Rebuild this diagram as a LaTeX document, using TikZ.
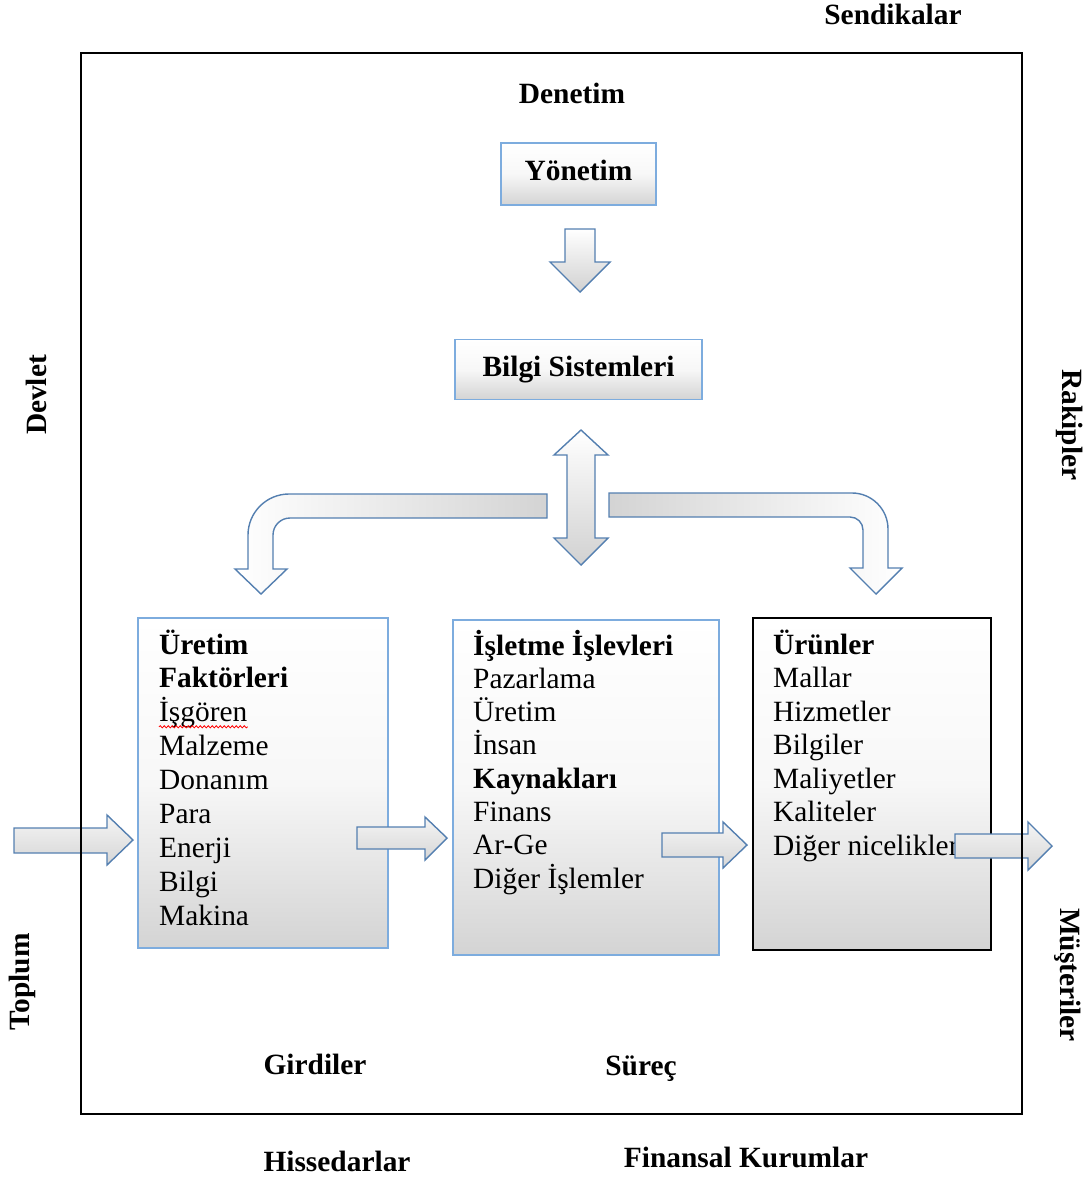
\documentclass[tikz,border=0pt]{standalone}
\usepackage{fontspec}
\setmainfont{Liberation Serif}
\usetikzlibrary{decorations.pathmorphing}
\definecolor{boxblue}{RGB}{125,172,222}
\definecolor{arrblue}{RGB}{84,127,176}
\begin{document}
\begin{tikzpicture}[x=1pt,y=-1pt,
  txt/.style={font=\fontsize{29.4}{34}\selectfont, inner sep=0pt},
  btxt/.style={font=\fontsize{29.4}{34}\selectfont\bfseries, inner sep=0pt},
  gradbox/.style={draw=boxblue, line width=1.3pt, top color=white, bottom color=black!17, middle color=black!3, inner sep=0pt},
  topbox/.style={gradbox, font=\fontsize{29.4}{34}\selectfont\bfseries, text height=20pt, text depth=6pt},
  blockarrow/.style={draw=arrblue, line width=1.4pt, line join=miter},
  vshade/.style={top color=white, bottom color=black!18},
  hshade/.style={top color=white!96!black, bottom color=black!16}
]
\useasboundingbox (0,0) rectangle (1090,1177);

% outside labels
\node[btxt, anchor=base] (sendikalar) at (893,25) {Sendikalar};
\node[btxt, anchor=base] (hissedarlar) at (337,1171) {Hissedarlar};
\node[btxt, anchor=base] (finansal) at (746,1167) {Finansal Kurumlar};
\node[btxt, rotate=90] (devlet) at (36,395) {Devlet};
\node[btxt, rotate=90] (toplum) at (22,982) {Toplum};
\node[btxt, rotate=-90] (rakipler) at (1070,425) {Rakipler};
\node[btxt, rotate=-90] (musteriler) at (1068,975) {Müşteriler};

% inside labels
\node[btxt, anchor=base] (denetim) at (572,104) {Denetim};
\node[btxt, anchor=base] (girdiler) at (315,1074) {Girdiler};
\node[btxt, anchor=base] (surec) at (641,1075) {Süreç};

% top boxes
\node[topbox, minimum width=155pt, minimum height=62pt] (yonetim) at (578.5,174) {Yönetim};
\node[topbox, minimum width=247pt, minimum height=60pt] (bilgi) at (578.5,369.5) {Bilgi Sistemleri};

% down arrow
\path[blockarrow, vshade] (565,229) -- (595,229) -- (595,262) -- (610,262) -- (580,292) -- (550,262) -- (565,262) -- cycle;

% double arrow
\path[blockarrow, vshade] (581,430) -- (608,455) -- (595,455) -- (595,538) -- (608,538) -- (581,565) -- (554,538) -- (567,538) -- (567,455) -- (554,455) -- cycle;

% left bent arrow
\path[blockarrow, left color=white, middle color=white, right color=black!17]
  (547,494) -- (289,494) .. controls (266.4,494) and (248,512.4) .. (248,535)
  -- (248,569) -- (235,569) -- (261,594) -- (287,569) -- (273,569) -- (273,535)
  .. controls (273,525.6) and (280.6,518) .. (290,518) -- (547,518) -- cycle;

% right bent arrow
\path[blockarrow, left color=black!17, middle color=white, right color=white]
  (609,493) -- (852,493) .. controls (871.8,493) and (888,509.2) .. (888,529)
  -- (888,568) -- (902,568) -- (876,594) -- (850,568) -- (863,568) -- (863,530)
  .. controls (863,522.8) and (857.2,517) .. (850,517) -- (609,517) -- cycle;

% lower boxes
\node[gradbox, minimum width=250pt, minimum height=330pt] (faktor) at (263,783) {};
\node[gradbox, minimum width=266pt, minimum height=335pt] (islev) at (586,787.5) {};
\node[gradbox, draw=black, minimum width=238pt, minimum height=332pt] (urun) at (872,784) {};

\foreach \t [count=\i] in {{\textbf{Üretim}},{\textbf{Faktörleri}},İşgören,Malzeme,Donanım,Para,Enerji,Bilgi,Makina}
  \node[txt, anchor=base west] (fak-\i) at (159,{654+33.9*(\i-1)}) {\t};
\draw[red, line width=0.8pt, decorate, decoration={snake, amplitude=1.1pt, segment length=4pt}]
  ([yshift=-5pt]fak-3.base west) -- ([yshift=-5pt]fak-3.base east);

\foreach \t [count=\i] in {{\textbf{İşletme İşlevleri}},Pazarlama,Üretim,İnsan,{\textbf{Kaynakları}},Finans,Ar-Ge,Diğer İşlemler}
  \node[txt, anchor=base west] (isl-\i) at (473,{655+33.3*(\i-1)}) {\t};

\foreach \t [count=\i] in {{\textbf{Ürünler}},Mallar,Hizmetler,Bilgiler,Maliyetler,Kaliteler,Diğer nicelikler}
  \node[txt, anchor=base west] (urn-\i) at (773,{654+33.5*(\i-1)}) {\t};

% horizontal arrows
\path[blockarrow, hshade] (14,828) -- (107,828) -- (107,815) -- (133,840) -- (107,865) -- (107,853) -- (14,853) -- cycle;
\path[blockarrow, hshade] (357,827) -- (425,827) -- (425,817) -- (447,838) -- (425,860) -- (425,849) -- (357,849) -- cycle;
\path[blockarrow, hshade] (662,833) -- (723,833) -- (723,822) -- (747,845) -- (723,868) -- (723,857) -- (662,857) -- cycle;
\path[blockarrow, hshade] (955,834) -- (1028,834) -- (1028,822) -- (1052,846) -- (1028,870) -- (1028,858) -- (955,858) -- cycle;

% frame
\node[draw=black, line width=1.5pt, minimum width=941pt, minimum height=1061pt, inner sep=0pt] (frame) at (551.5,583.5) {};
\end{tikzpicture}
\end{document}
